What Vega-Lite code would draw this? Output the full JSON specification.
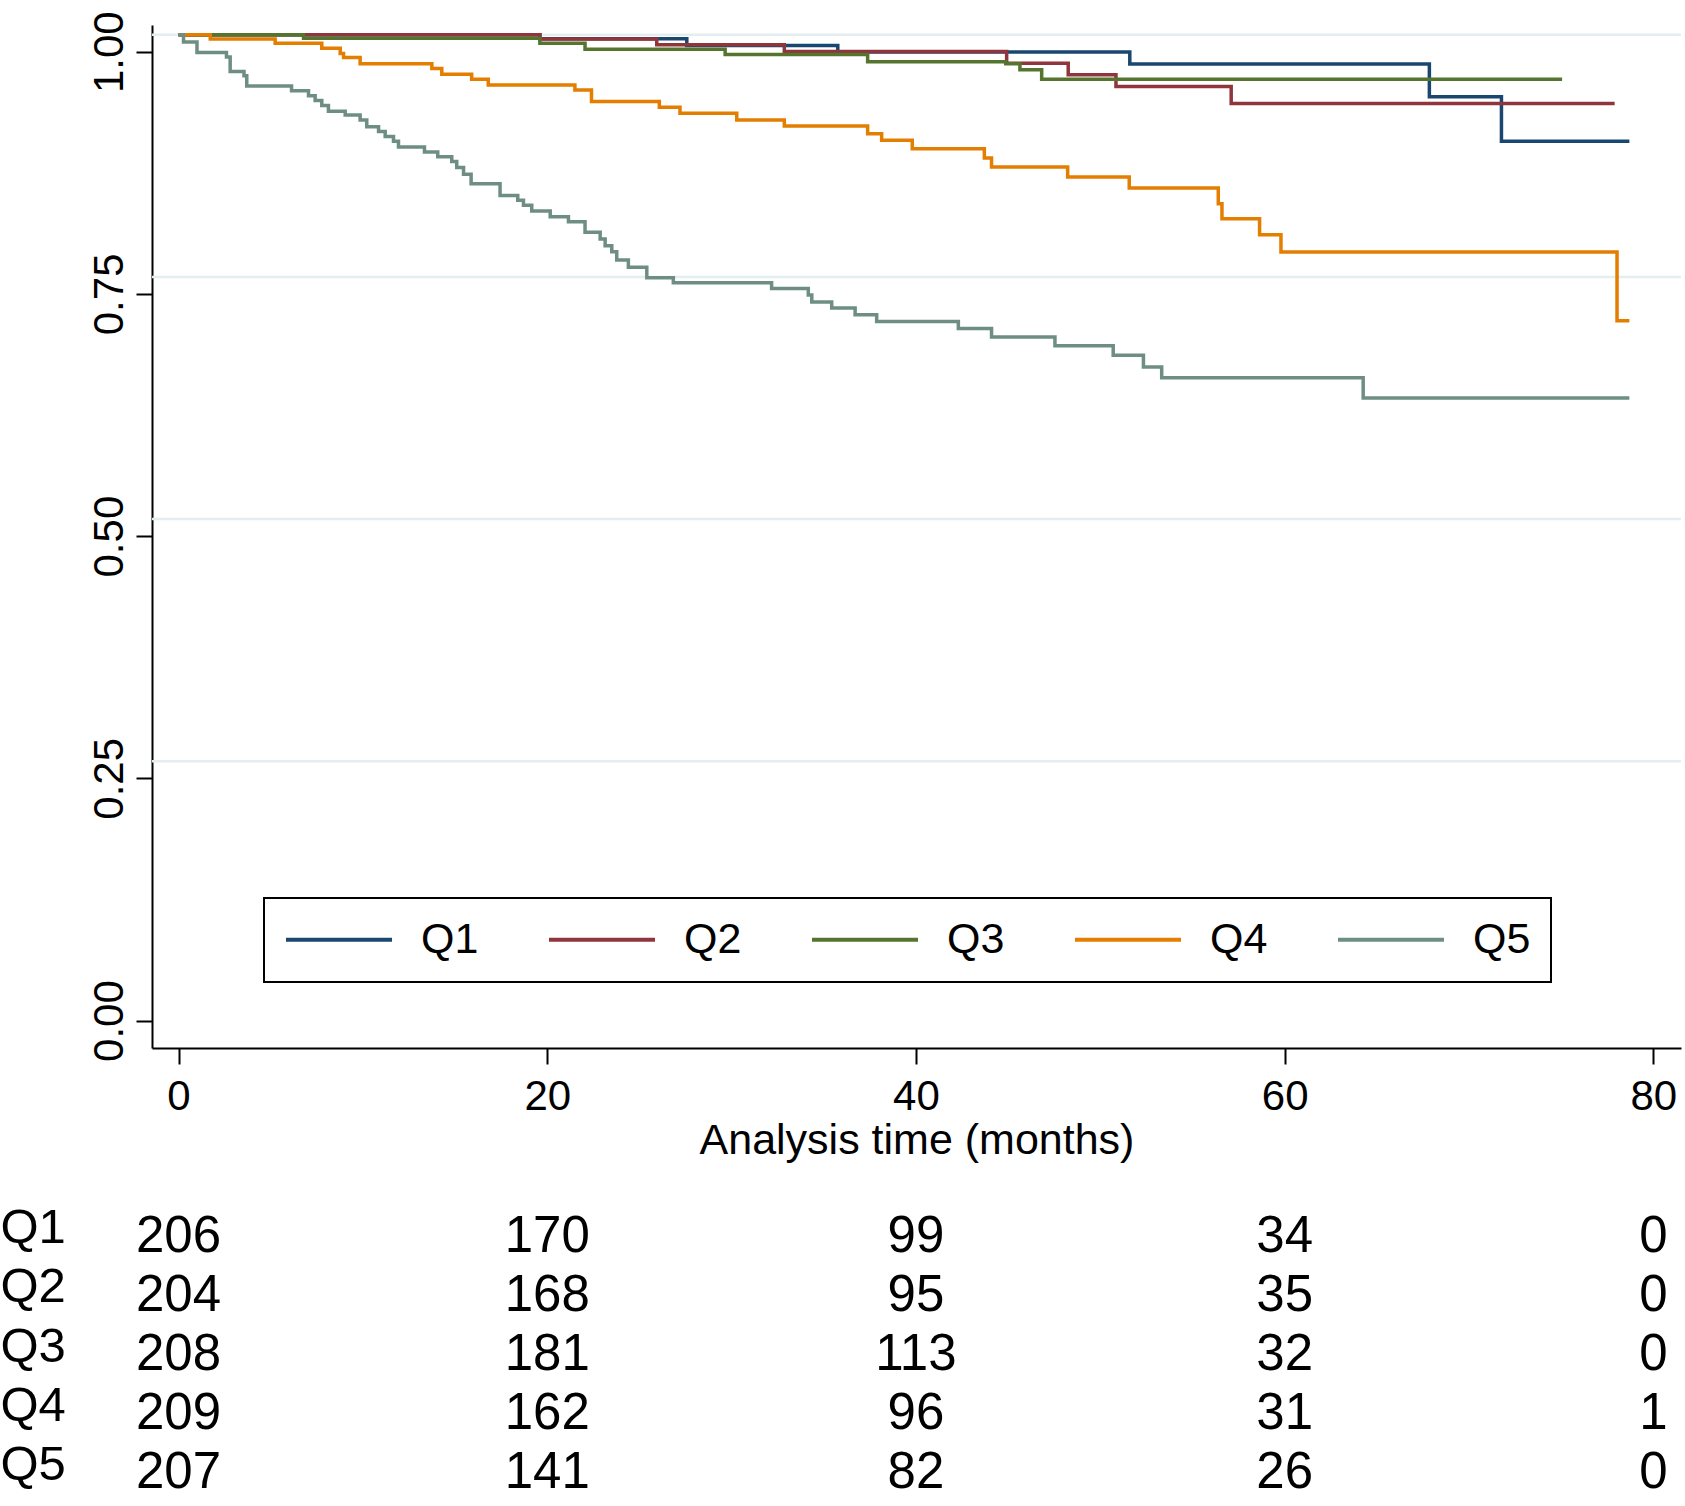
{
  "$schema": "https://vega.github.io/schema/vega-lite/v6.json",
  "background": "white",
  "padding": {"left": 0, "top": 10, "right": 0, "bottom": 0},
  "spacing": 41,
  "datasets": {
    "km": [
      {"grp": "Q1", "t": 0, "s": 1},
      {"grp": "Q1", "t": 19.6, "s": 0.9957},
      {"grp": "Q1", "t": 27.57, "s": 0.9888},
      {"grp": "Q1", "t": 35.76, "s": 0.982},
      {"grp": "Q1", "t": 51.6, "s": 0.9696},
      {"grp": "Q1", "t": 67.85, "s": 0.936},
      {"grp": "Q1", "t": 71.76, "s": 0.89},
      {"grp": "Q1", "t": 78.7, "s": 0.89},
      {"grp": "Q2", "t": 0, "s": 1},
      {"grp": "Q2", "t": 19.6, "s": 0.9954},
      {"grp": "Q2", "t": 25.94, "s": 0.9895},
      {"grp": "Q2", "t": 32.86, "s": 0.9827},
      {"grp": "Q2", "t": 44.92, "s": 0.9706},
      {"grp": "Q2", "t": 48.26, "s": 0.9586},
      {"grp": "Q2", "t": 50.85, "s": 0.9466},
      {"grp": "Q2", "t": 57.1, "s": 0.929},
      {"grp": "Q2", "t": 77.9, "s": 0.929},
      {"grp": "Q3", "t": 0, "s": 1},
      {"grp": "Q3", "t": 6.78, "s": 0.9964},
      {"grp": "Q3", "t": 19.6, "s": 0.991},
      {"grp": "Q3", "t": 22.05, "s": 0.985},
      {"grp": "Q3", "t": 29.65, "s": 0.9795},
      {"grp": "Q3", "t": 37.38, "s": 0.972},
      {"grp": "Q3", "t": 44.87, "s": 0.97},
      {"grp": "Q3", "t": 45.64, "s": 0.9637},
      {"grp": "Q3", "t": 46.82, "s": 0.954},
      {"grp": "Q3", "t": 75.05, "s": 0.954},
      {"grp": "Q4", "t": 0, "s": 1},
      {"grp": "Q4", "t": 1.72, "s": 0.9954},
      {"grp": "Q4", "t": 5.24, "s": 0.991},
      {"grp": "Q4", "t": 7.77, "s": 0.986},
      {"grp": "Q4", "t": 8.77, "s": 0.9806},
      {"grp": "Q4", "t": 8.95, "s": 0.9765},
      {"grp": "Q4", "t": 9.85, "s": 0.97},
      {"grp": "Q4", "t": 13.74, "s": 0.965},
      {"grp": "Q4", "t": 14.28, "s": 0.959},
      {"grp": "Q4", "t": 15.9, "s": 0.954},
      {"grp": "Q4", "t": 16.8, "s": 0.948},
      {"grp": "Q4", "t": 21.5, "s": 0.943},
      {"grp": "Q4", "t": 22.4, "s": 0.931},
      {"grp": "Q4", "t": 26.08, "s": 0.925},
      {"grp": "Q4", "t": 27.2, "s": 0.919},
      {"grp": "Q4", "t": 30.28, "s": 0.912},
      {"grp": "Q4", "t": 32.86, "s": 0.9057},
      {"grp": "Q4", "t": 37.38, "s": 0.8977},
      {"grp": "Q4", "t": 38.14, "s": 0.891},
      {"grp": "Q4", "t": 39.8, "s": 0.8823},
      {"grp": "Q4", "t": 43.71, "s": 0.8727},
      {"grp": "Q4", "t": 44.1, "s": 0.8634},
      {"grp": "Q4", "t": 48.23, "s": 0.853},
      {"grp": "Q4", "t": 51.57, "s": 0.8418},
      {"grp": "Q4", "t": 56.4, "s": 0.8256},
      {"grp": "Q4", "t": 56.6, "s": 0.81},
      {"grp": "Q4", "t": 58.64, "s": 0.7936},
      {"grp": "Q4", "t": 59.8, "s": 0.7758},
      {"grp": "Q4", "t": 78.03, "s": 0.7046},
      {"grp": "Q4", "t": 78.7, "s": 0.7046},
      {"grp": "Q5", "t": 0, "s": 1},
      {"grp": "Q5", "t": 0.27, "s": 0.9925},
      {"grp": "Q5", "t": 1.0, "s": 0.9816},
      {"grp": "Q5", "t": 2.6, "s": 0.977},
      {"grp": "Q5", "t": 2.8, "s": 0.962},
      {"grp": "Q5", "t": 3.55, "s": 0.9575},
      {"grp": "Q5", "t": 3.7, "s": 0.947},
      {"grp": "Q5", "t": 6.13, "s": 0.942},
      {"grp": "Q5", "t": 7.05, "s": 0.937},
      {"grp": "Q5", "t": 7.41, "s": 0.932},
      {"grp": "Q5", "t": 7.77, "s": 0.927},
      {"grp": "Q5", "t": 8.13, "s": 0.921},
      {"grp": "Q5", "t": 9.04, "s": 0.917},
      {"grp": "Q5", "t": 9.85, "s": 0.912},
      {"grp": "Q5", "t": 10.21, "s": 0.905},
      {"grp": "Q5", "t": 10.85, "s": 0.9},
      {"grp": "Q5", "t": 11.21, "s": 0.895},
      {"grp": "Q5", "t": 11.66, "s": 0.89},
      {"grp": "Q5", "t": 11.93, "s": 0.884},
      {"grp": "Q5", "t": 13.34, "s": 0.879},
      {"grp": "Q5", "t": 14.06, "s": 0.874},
      {"grp": "Q5", "t": 14.82, "s": 0.869},
      {"grp": "Q5", "t": 15.09, "s": 0.863},
      {"grp": "Q5", "t": 15.46, "s": 0.856},
      {"grp": "Q5", "t": 15.87, "s": 0.846},
      {"grp": "Q5", "t": 17.44, "s": 0.834},
      {"grp": "Q5", "t": 18.4, "s": 0.829},
      {"grp": "Q5", "t": 18.71, "s": 0.824},
      {"grp": "Q5", "t": 19.16, "s": 0.818},
      {"grp": "Q5", "t": 20.16, "s": 0.812},
      {"grp": "Q5", "t": 21.15, "s": 0.807},
      {"grp": "Q5", "t": 22.05, "s": 0.796},
      {"grp": "Q5", "t": 22.87, "s": 0.789},
      {"grp": "Q5", "t": 23.14, "s": 0.782},
      {"grp": "Q5", "t": 23.5, "s": 0.776},
      {"grp": "Q5", "t": 23.77, "s": 0.7675},
      {"grp": "Q5", "t": 24.4, "s": 0.76},
      {"grp": "Q5", "t": 25.4, "s": 0.749},
      {"grp": "Q5", "t": 26.84, "s": 0.744},
      {"grp": "Q5", "t": 32.17, "s": 0.738},
      {"grp": "Q5", "t": 34.16, "s": 0.7314},
      {"grp": "Q5", "t": 34.35, "s": 0.7242},
      {"grp": "Q5", "t": 35.43, "s": 0.718},
      {"grp": "Q5", "t": 36.7, "s": 0.711},
      {"grp": "Q5", "t": 37.87, "s": 0.704},
      {"grp": "Q5", "t": 42.3, "s": 0.6967},
      {"grp": "Q5", "t": 44.1, "s": 0.688},
      {"grp": "Q5", "t": 47.54, "s": 0.679},
      {"grp": "Q5", "t": 50.7, "s": 0.669},
      {"grp": "Q5", "t": 52.34, "s": 0.657},
      {"grp": "Q5", "t": 53.33, "s": 0.646},
      {"grp": "Q5", "t": 64.26, "s": 0.625},
      {"grp": "Q5", "t": 78.7, "s": 0.625}
    ],
    "gridlines": [
      {"s": 0.25}, {"s": 0.5}, {"s": 0.75}, {"s": 1}
    ],
    "risk": [
      {"grp": "Q1", "t": 0, "n": 206}, {"grp": "Q1", "t": 20, "n": 170}, {"grp": "Q1", "t": 40, "n": 99}, {"grp": "Q1", "t": 60, "n": 34}, {"grp": "Q1", "t": 80, "n": 0},
      {"grp": "Q2", "t": 0, "n": 204}, {"grp": "Q2", "t": 20, "n": 168}, {"grp": "Q2", "t": 40, "n": 95}, {"grp": "Q2", "t": 60, "n": 35}, {"grp": "Q2", "t": 80, "n": 0},
      {"grp": "Q3", "t": 0, "n": 208}, {"grp": "Q3", "t": 20, "n": 181}, {"grp": "Q3", "t": 40, "n": 113}, {"grp": "Q3", "t": 60, "n": 32}, {"grp": "Q3", "t": 80, "n": 0},
      {"grp": "Q4", "t": 0, "n": 209}, {"grp": "Q4", "t": 20, "n": 162}, {"grp": "Q4", "t": 40, "n": 96}, {"grp": "Q4", "t": 60, "n": 31}, {"grp": "Q4", "t": 80, "n": 1},
      {"grp": "Q5", "t": 0, "n": 207}, {"grp": "Q5", "t": 20, "n": 141}, {"grp": "Q5", "t": 40, "n": 82}, {"grp": "Q5", "t": 60, "n": 26}, {"grp": "Q5", "t": 80, "n": 0}
    ]
  },
  "vconcat": [
    {
      "width": 1529,
      "height": 1023,
      "layer": [
        {
          "data": {"name": "gridlines"},
          "mark": {"type": "rule", "color": "#e4edef", "strokeWidth": 2.5, "yOffset": -17},
          "encoding": {
            "y": {"field": "s", "type": "quantitative", "scale": {"domain": [-0.0283, 1.0275], "nice": false, "zero": false}}
          }
        },
        {
          "data": {"name": "km"},
          "mark": {"type": "line", "interpolate": "step-after", "strokeWidth": 3.5, "yOffset": -17},
          "encoding": {
            "x": {
              "field": "t", "type": "quantitative",
              "scale": {"domain": [-1.44, 81.5], "nice": false, "zero": false},
              "axis": {
                "values": [0, 20, 40, 60, 80],
                "title": "Analysis time (months)",
                "labelPadding": 12,
                "titlePadding": 2
              }
            },
            "y": {
              "field": "s", "type": "quantitative",
              "scale": {"domain": [-0.0283, 1.0275], "nice": false, "zero": false},
              "axis": {
                "values": [0, 0.25, 0.5, 0.75, 1],
                "format": ".2f",
                "title": null,
                "labelAngle": -90,
                "labelAlign": "center",
                "labelBaseline": "alphabetic",
                "labelPadding": 14
              }
            },
            "color": {
              "field": "grp", "type": "nominal",
              "scale": {"domain": ["Q1", "Q2", "Q3", "Q4", "Q5"], "range": ["#1a476f", "#90353b", "#55752f", "#e37e00", "#6e8e84"]},
              "legend": {
                "title": null,
                "orient": "none",
                "legendX": 112,
                "legendY": 873,
                "direction": "horizontal",
                "columns": 5,
                "symbolType": "stroke",
                "symbolSize": 11236,
                "symbolStrokeWidth": 4,
                "labelOffset": 27,
                "columnPadding": 62,
                "padding": 20,
                "strokeColor": "black",
                "fillColor": "white",
                "labelFontSize": 43,
                "labelFont": "Liberation Sans",
                "labelColor": "black",
                "cornerRadius": 0,
                "encode": {
                  "symbols": {"update": {"y": {"value": 21.5}}},
                  "labels": {"update": {"y": {"value": 21.5}}},
                  "legend": {"update": {"strokeWidth": {"value": 2}}}
                }
              }
            }
          }
        }
      ]
    },
    {
      "width": 1529,
      "height": 296,
      "data": {"name": "risk"},
      "mark": {"type": "text", "fontSize": 51, "font": "Liberation Sans", "color": "black", "align": "center", "baseline": "middle"},
      "encoding": {
        "x": {"field": "t", "type": "quantitative", "scale": {"domain": [-1.44, 81.5], "nice": false, "zero": false}, "axis": null},
        "y": {
          "field": "grp", "type": "nominal",
          "scale": {"type": "point", "padding": 0.5, "domain": ["Q1", "Q2", "Q3", "Q4", "Q5"]},
          "axis": {
            "title": null,
            "domain": false,
            "ticks": false,
            "grid": false,
            "labelAlign": "left",
            "labelPadding": 152,
            "labelFontSize": 49,
            "labelOffset": -9
          }
        },
        "text": {"field": "n", "type": "quantitative"}
      }
    }
  ],
  "config": {
    "view": {"stroke": null},
    "font": "Liberation Sans",
    "axis": {
      "domainColor": "black",
      "domainWidth": 2,
      "tickColor": "black",
      "tickWidth": 2,
      "tickSize": 16,
      "labelColor": "black",
      "labelFont": "Liberation Sans",
      "labelFontSize": 42,
      "titleFont": "Liberation Sans",
      "titleFontSize": 43,
      "titleFontWeight": "normal",
      "titleColor": "black",
      "grid": false
    }
  }
}
